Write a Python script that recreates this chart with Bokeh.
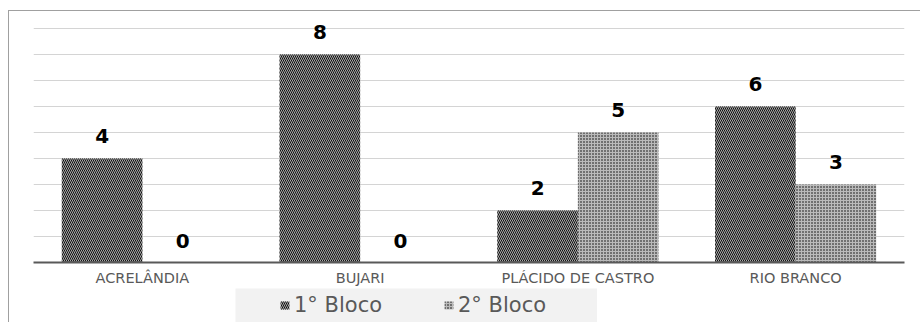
from bokeh.plotting import figure
from bokeh.models import (FactorRange, Range1d, ColumnDataSource, Legend, LegendItem,
                          FixedTicker, Spacer)
from bokeh.layouts import column, row
from bokeh.transform import dodge
from bokeh.core.properties import value
from bokeh.embed import file_html
from bokeh.resources import INLINE

cidades = ["ACRELÂNDIA", "BUJARI", "PLÁCIDO DE CASTRO", "RIO BRANCO"]
bloco1 = [4, 8, 2, 6]
bloco2 = [0, 0, 5, 3]
series_names = ["1° Bloco", "2° Bloco"]

style1 = dict(fill_color="#a8a8a8", line_color=None, hatch_pattern="left_diagonal_line",
              hatch_color="#111111", hatch_scale=4.0, hatch_weight=1.0)
style2 = dict(fill_color="#bababa", line_color=None, hatch_pattern="dot",
              hatch_color="#000000", hatch_scale=3.0, hatch_weight=1.5)

src = ColumnDataSource(dict(cat=cidades, b1=bloco1, b2=bloco2,
                            l1=[str(v) for v in bloco1], l2=[str(v) for v in bloco2]))

p = figure(width=911, height=277, x_range=FactorRange(*cidades, range_padding=0),
           y_range=Range1d(0, 9.42), output_backend="svg", toolbar_location=None,
           min_border_left=24, min_border_right=16, min_border_top=6, min_border_bottom=24)
p.outline_line_color = None

p.vbar(x=dodge("cat", -0.185, range=p.x_range), top="b1", width=0.37, source=src, **style1)
p.vbar(x=dodge("cat", 0.185, range=p.x_range), top="b2", width=0.37, source=src, **style2)

for col, lab, off in (("b1", "l1", -0.185), ("b2", "l2", 0.185)):
    p.text(x=dodge("cat", off, range=p.x_range), y=col, text=lab, source=src,
           text_align="center", text_baseline="middle", y_offset=-22,
           text_font=value("DejaVu Sans"), text_font_style="bold", text_font_size="20px",
           text_color="black")

p.yaxis.visible = False
p.ygrid.ticker = FixedTicker(ticks=list(range(1, 10)))
p.ygrid.grid_line_color = "#d4d4d4"
p.ygrid.grid_line_width = 1
p.xgrid.grid_line_color = None

ax = p.xaxis[0]
ax.axis_line_color = "#595959"
ax.axis_line_width = 2
ax.major_tick_line_color = None
ax.minor_tick_line_color = None
ax.major_label_text_color = "#595959"
ax.major_label_text_font = "DejaVu Sans"
ax.major_label_text_font_size = "14.5px"
ax.major_label_standoff = 1

# legend panel
lg = figure(width=362, height=34, x_range=Range1d(0, 1), y_range=Range1d(0, 1),
            output_backend="svg", toolbar_location=None,
            min_border=0, min_border_left=0, min_border_right=0,
            min_border_top=0, min_border_bottom=0)
lg.axis.visible = False
lg.grid.visible = False
lg.outline_line_color = None
lg.background_fill_color = "#f2f2f2"
lg.border_fill_color = "#f2f2f2"
d1 = lg.vbar(x=[5], top=[5], width=0.5, **style1)
d2 = lg.vbar(x=[5], top=[5], width=0.5, **style2)

for name, rr, vx in ((series_names[0], d1, 44), (series_names[1], d2, 208)):
    leg = Legend(items=[LegendItem(label=name, renderers=[rr])],
                 location=(vx, 5), background_fill_alpha=0, border_line_color=None,
                 glyph_width=11, glyph_height=10, label_standoff=4,
                 label_text_font="DejaVu Sans", label_text_font_size="21px",
                 label_text_color="#595959", padding=0, margin=0)
    lg.add_layout(leg, "center")

inner = column(p, row(Spacer(width=226, height=34), lg),
               styles={"border-top": "1px solid #a0a0a0", "border-left": "1px solid #a0a0a0"})
root = column(Spacer(width=10, height=10), row(Spacer(width=8, height=10), inner))

open("out.html", "w").write(file_html(root, INLINE))
